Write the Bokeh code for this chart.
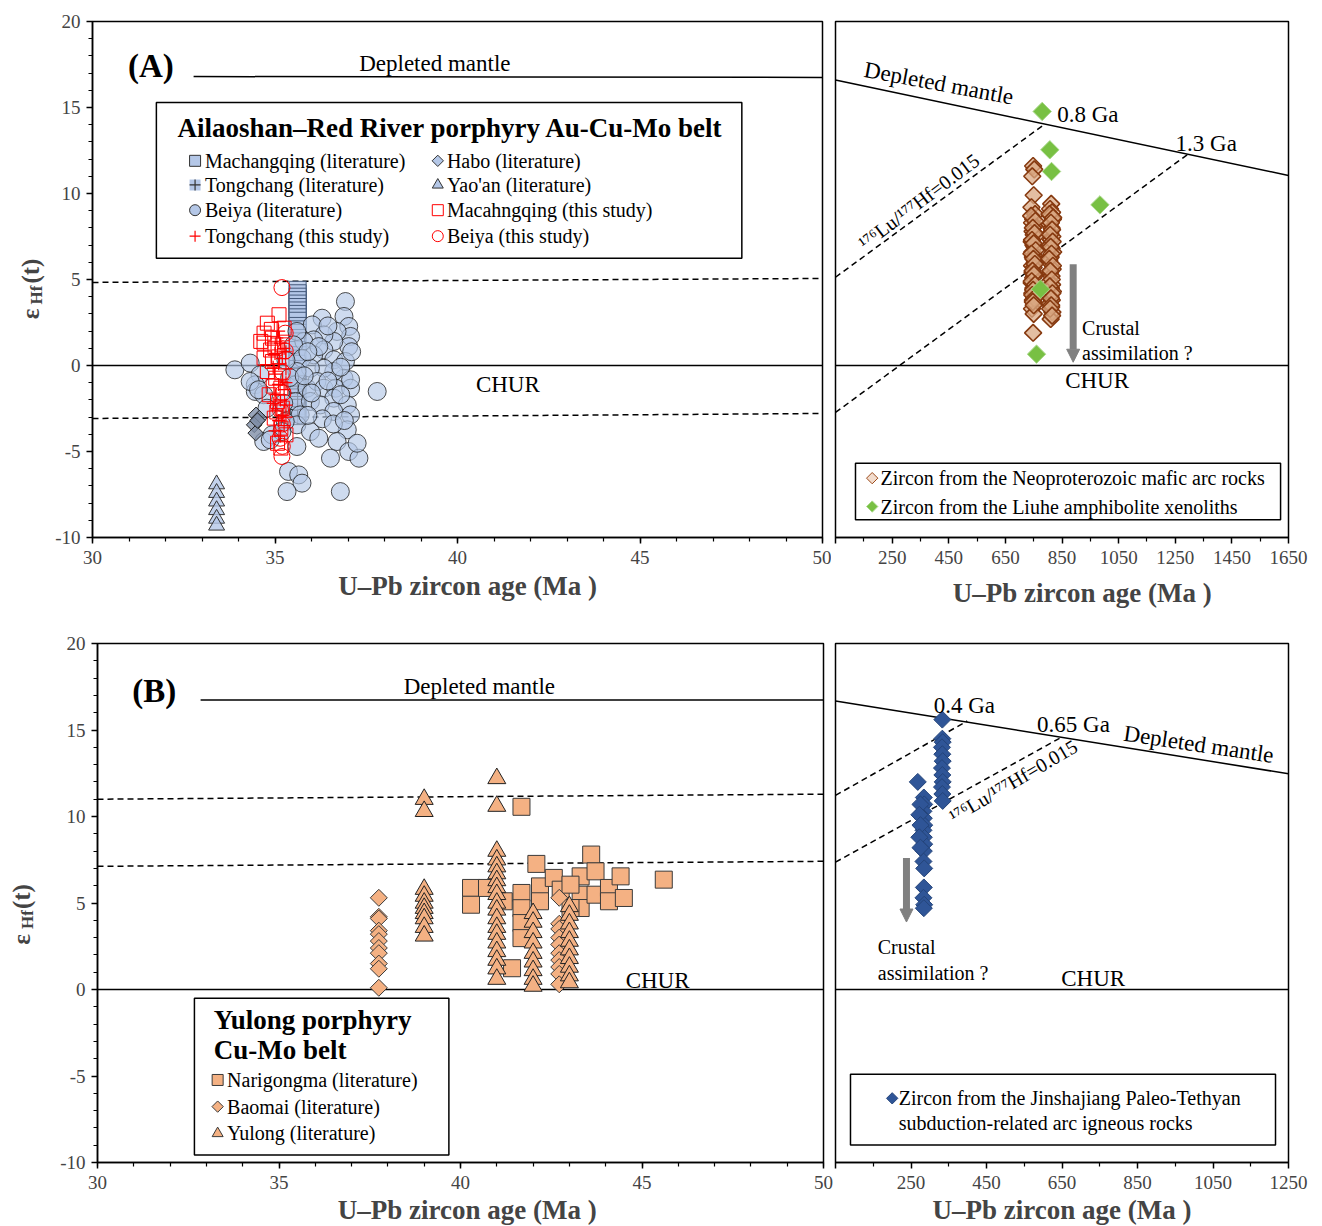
import numpy as np
from bokeh.plotting import figure
from bokeh.layouts import column, row
from bokeh.models import Range1d, FixedTicker, Label, Arrow, NormalHead
from bokeh.core.properties import value
from bokeh.embed import file_html
from bokeh.resources import INLINE

SERIF = "Liberation Serif"

# ---------------- Panel A (Ailaoshan-Red River) ----------------
beiya_lit_x = [36.93, 36.29, 36.02, 36.89, 37.02, 37.07, 37.02, 36.70, 36.61, 36.34, 36.06, 35.79, 35.60, 35.51,
               36.34, 36.06, 35.74, 36.61, 36.93, 36.89, 36.61, 36.34, 35.97, 35.60, 33.90, 34.32, 37.80, 34.59,
               34.46, 34.46, 34.69, 35.56, 35.56, 35.88, 36.15, 36.34, 36.66, 37.07, 37.07, 36.61, 35.97, 36.24,
               36.98, 36.61, 35.69, 37.07, 35.60, 35.97, 36.20, 36.98, 36.70, 36.52, 37.02, 37.30, 37.25, 34.69,
               34.92, 35.60, 35.37, 35.65, 35.74, 35.33, 36.79, 34.32, 34.55, 34.78, 35.24, 35.28, 35.19, 34.87,
               36.45, 36.20, 35.90, 36.80, 36.45, 36.00, 36.80, 36.30, 36.60, 35.90, 35.40, 35.30, 36.90, 37.10, 35.80]
beiya_lit_y = [3.72, 2.75, 2.36, 2.85, 2.27, 1.69, 1.10, 1.98, 1.40, 1.78, 1.49, 1.40, 1.98, 1.20,
               0.91, 0.62, 0.42, 0.33, 0.23, -0.74, -0.35, -0.16, -0.16, -0.35, -0.25, 0.14, -1.51, -0.54,
               -1.12, -1.51, -1.70, -1.12, -2.09, -1.32, -0.93, -1.32, -1.32, -1.32, -0.83, -1.90, -2.09, -2.29,
               -2.29, -2.67, -2.87, -2.87, -3.45, -3.84, -4.23, -3.74, -4.42, -5.39, -5.00, -5.39, -4.52, -4.42,
               -4.03, -4.71, -6.16, -6.36, -6.84, -7.33, -7.33, -0.93, -1.41, -2.48, -2.19, -3.26, -3.84, -4.32,
               2.30, 1.10, 0.80, -0.10, -0.90, -1.60, -1.70, -3.10, -3.40, -2.90, -0.70, 0.30, -3.20, 0.80, -0.60]
machangqing_x = [35.62] * 27
machangqing_y = [4.4, 4.2, 4.0, 3.8, 3.6, 3.4, 3.2, 3.0, 2.8, 2.6, 2.3, 2.1, 1.9, 1.6, 1.4, 1.1, 0.9, 0.6,
                 0.4, 0.1, -0.2, -0.6, -1.0, -1.4, -1.8, -2.3, -2.8]
tongchang_lit_x = [35.62, 35.62, 35.62, 35.62, 35.62]
tongchang_lit_y = [-0.6, -1.2, -1.8, -2.4, -3.0]
habo_x = [34.48, 34.57, 34.43, 34.47, 34.52]
habo_y = [-2.87, -3.06, -3.45, -3.93, -3.20]
yaoan_x = [33.4, 33.4, 33.4, 33.4, 33.4, 33.4]
yaoan_y = [-6.9, -7.4, -7.9, -8.4, -8.9, -9.3]
mcq_this_x = [34.79, 35.11, 34.70, 34.93, 35.20, 34.70, 34.70, 34.93, 34.79, 35.02, 35.16, 34.84, 35.07, 35.20,
              34.98, 35.16, 35.30, 35.07, 35.16, 34.61, 35.25, 34.88, 35.10, 34.95, 35.05, 34.90, 35.00]
mcq_this_y = [2.46, 2.95, 1.88, 1.59, 1.20, 1.30, 0.43, 0.23, -0.35, -0.74, -1.32, -1.70, -2.09, -2.48,
              -3.06, -3.64, -4.03, -4.52, -4.80, 1.40, 2.17, 0.90, 0.50, -1.20, -2.70, 2.10, 1.00]
tc_this_x = [35.05, 35.15, 35.25, 35.00, 35.20, 35.10, 35.30, 35.00, 35.20, 35.10, 35.25, 35.00, 35.15, 35.30,
             35.05, 35.20, 35.10, 35.25, 35.00, 35.15, 35.30, 34.95, 35.30, 34.95, 35.30, 35.10]
tc_this_y = [1.6, 1.3, 1.0, 0.7, 0.4, 0.1, -0.2, -0.5, -0.8, -1.1, -1.4, -1.7, -2.0, -2.3,
             -2.6, -2.9, -3.2, -3.5, -3.8, -4.1, 0.8, -0.1, -1.0, -2.2, -3.0, 2.0]
beiya_this_x = [35.19, 35.28, 35.28, 35.20, 35.22, 35.15, 35.20, 35.14, 35.20, 35.19]
beiya_this_y = [4.53, 1.88, 0.85, -0.40, -1.60, -2.60, -3.40, -4.23, -4.70, -5.29]
a_dm_x = [32.77, 50.0]
a_dm_y = [16.8, 16.75]
a_up_y = [4.83, 5.06]
a_lo_y = [-3.08, -2.79]

# ---------------- Panel A right (Neoproterozoic) ----------------
neo_x = [748, 752, 745, 750, 742, 755, 748, 744, 752, 746, 750, 756, 743, 749, 753, 745, 751, 747,
         754, 744, 750, 746, 752, 748, 743, 755, 749, 745, 751, 747, 753, 744, 750, 748,
         812, 808, 815, 810, 818, 806, 813, 809, 816, 811, 807, 814, 819, 810, 805, 812, 817, 808,
         813, 806, 815, 811, 818, 809, 814, 807, 812, 816, 810,
         741, 756, 747, 753, 744, 750, 757, 742, 749, 754, 746, 751, 743, 755, 748, 745, 752, 747, 750,
         806, 819, 811, 815, 808, 817, 810, 813, 805, 818, 809, 814, 807, 816, 811, 812, 808, 815]
neo_y = [11.6, 11.4, 11.0, 9.9, 9.2, 8.8, 8.5, 8.3, 8.1, 7.8, 7.6, 7.5, 7.2, 7.0, 6.9, 6.6, 6.4, 6.3,
         6.0, 5.8, 5.7, 5.4, 5.2, 5.1, 4.8, 4.6, 4.5, 4.2, 4.0, 3.8, 3.6, 3.3, 3.0, 1.9,
         9.4, 9.1, 8.9, 8.7, 8.5, 8.2, 8.0, 7.7, 7.5, 7.3, 7.0, 6.8, 6.6, 6.3, 6.1, 5.9, 5.6, 5.4,
         5.2, 4.9, 4.7, 4.5, 4.3, 4.0, 3.8, 3.6, 3.4, 3.1, 2.7,
         8.7, 8.4, 8.0, 7.7, 7.3, 7.1, 6.7, 6.5, 6.2, 5.9, 5.5, 5.3, 4.9, 4.7, 4.4, 4.1, 3.9, 3.7, 3.5,
         8.8, 8.6, 8.3, 7.9, 7.6, 7.2, 6.9, 6.5, 6.2, 5.8, 5.5, 5.0, 4.6, 4.2, 3.9, 3.5, 3.3, 2.9]
liuhe_x = [780, 807, 813, 984, 774, 760]
liuhe_y = [14.77, 12.54, 11.28, 9.34, 4.44, 0.66]
ar_dm_x = [50, 1650]
ar_dm_y = [16.6, 11.05]
ar_up_x = [50, 786]
ar_up_y = [5.13, 14.0]
ar_lo_x = [50, 1292]
ar_lo_y = [-2.73, 12.25]

# ---------------- Panel B (Yulong) ----------------
narigongma_x = [40.29, 40.29, 40.73, 41.19, 41.42, 41.68, 42.09, 41.68, 41.68, 41.68, 41.68, 42.19, 42.19,
                42.57, 42.76, 43.31, 43.31, 43.31, 43.60, 43.72, 43.72, 44.09, 44.09, 44.41, 44.50, 45.60,
                43.03, 43.03]
narigongma_y = [5.87, 4.90, 5.87, 5.10, 1.23, 10.56, 7.26, 5.58, 4.70, 3.84, 2.97, 5.96, 5.10,
                6.45, 5.77, 6.54, 5.48, 4.71, 7.80, 6.83, 5.48, 5.87, 5.10, 6.54, 5.29, 6.35,
                6.06, 4.71]
baomai_x = [37.75] * 11 + [42.72] * 10
baomai_y = [5.3, 4.2, 4.1, 3.4, 3.2, 2.8, 2.4, 2.1, 1.5, 1.2, 0.1,
            5.3, 3.8, 3.5, 3.0, 2.6, 2.1, 1.7, 1.3, 0.9, 0.3]
yulong_x = [39.0] * 10 + [41.0] * 19 + [42.0] * 9 + [43.0] * 10
yulong_y = [11.0, 10.3, 5.8, 5.4, 5.0, 4.7, 4.4, 4.1, 3.6, 3.1,
            12.2, 10.6, 8.0, 7.5, 7.1, 6.7, 6.3, 5.9, 5.5, 5.0, 4.6, 4.1, 3.6, 3.2, 2.7, 2.2, 1.7, 1.2, 0.6,
            4.4, 3.9, 3.3, 2.7, 2.1, 1.6, 1.1, 0.6, 0.2,
            4.8, 4.3, 3.8, 3.3, 2.8, 2.3, 1.8, 1.3, 0.8, 0.4]
b_dm_x = [32.84, 50.0]
b_dm_y = [16.73, 16.73]
b_up_y = [11.0, 11.29]
b_lo_y = [7.12, 7.41]

# ---------------- Panel B right (Jinshajiang) ----------------
jsj_x = [333, 333, 334, 332, 333, 334, 332, 333, 334, 332, 333, 334,
         284, 285, 283, 284, 285, 283, 284, 285, 284, 283, 285, 284, 283, 285, 284,
         268, 275, 272, 275, 272, 275]
jsj_y = [15.6, 14.5, 14.3, 14.0, 13.6, 13.2, 12.8, 12.4, 12.0, 11.7, 11.3, 10.9,
         11.1, 10.7, 10.3, 9.9, 9.5, 9.2, 8.8, 8.4, 8.0, 7.4, 7.0, 5.9, 5.3, 4.9, 4.7,
         12.0, 10.7, 10.1, 9.5, 8.8, 8.2]
br_dm_x = [50, 1250]
br_dm_y = [16.68, 12.47]
br_up_x = [50, 399]
br_up_y = [11.22, 15.52]
br_lo_x = [50, 646]
br_lo_y = [7.36, 14.55]

left_ticks = [30, 35, 40, 45, 50]
left_minor = list(range(30, 51))
y_ticks = [-10, -5, 0, 5, 10, 15, 20]
y_minor = list(range(-10, 21))
tr_ticks = [50, 250, 450, 650, 850, 1050, 1250, 1450, 1650]
tr_minor = [150, 350, 550, 750, 950, 1150, 1350, 1550]
br_ticks = [50, 250, 450, 650, 850, 1050, 1250]
br_minor = [150, 350, 550, 750, 950, 1150]

AXIS_TITLE = "U\u2013Pb zircon age (Ma )"
LB = "#b4c7e7"
ORANGE = "#f4b183"
LBL = "23px"


def base_fig(xr, fw, fh, bl, br, bt, bb, xt, xm, with_y, label_standoff, label_pad):
    p = figure(x_range=Range1d(*xr), y_range=Range1d(-10, 20), frame_width=fw, frame_height=fh,
               min_border_left=bl, min_border_right=br, min_border_top=bt, min_border_bottom=bb,
               output_backend="svg", toolbar_location=None,
               y_axis_location="left" if with_y else None)
    p.xgrid.visible = False
    p.ygrid.visible = False
    p.outline_line_color = "black"
    p.outline_line_width = 1.5
    p.background_fill_color = "white"
    p.border_fill_color = "white"
    ax = p.xaxis[0]
    ax.ticker = FixedTicker(ticks=xt, minor_ticks=xm)
    ax.axis_label = label_pad + AXIS_TITLE
    ax.axis_label_text_font = SERIF
    ax.axis_label_text_font_style = "bold"
    ax.axis_label_text_font_size = "27px"
    ax.axis_label_standoff = label_standoff
    ax.major_label_text_font = SERIF
    ax.major_label_text_font_size = "19px"
    ax.major_label_standoff = 7
    ax.major_tick_out = 6
    ax.major_tick_in = 0
    ax.minor_tick_out = 4
    ax.minor_tick_in = 0
    ax.axis_line_width = 1.5
    ax.major_tick_line_width = 1.5
    ax.minor_tick_line_width = 1.2
    if with_y:
        ay = p.yaxis[0]
        ay.ticker = FixedTicker(ticks=y_ticks, minor_ticks=y_minor)
        ay.major_label_overrides = {-10: "-10", -5: "-5"}
        ay.major_label_text_font = SERIF
        ay.major_label_text_font_size = "19px"
        ay.major_label_standoff = 6
        ay.major_tick_out = 6
        ay.major_tick_in = 0
        ay.minor_tick_out = 4
        ay.minor_tick_in = 0
        ay.axis_line_width = 1.5
        ay.major_tick_line_width = 1.5
        ay.minor_tick_line_width = 1.2
    return p


def txt(p, x, y, s, size=LBL, align="center", baseline="middle", angle=0.0, bold=False):
    p.text(x=[x], y=[y], text=[s], text_font=value(SERIF), text_font_size=size,
           text_align=align, text_baseline=baseline, angle=angle,
           text_font_style="bold" if bold else "normal", text_color="black")


def ylabel(p, main_pos, sub_pos):
    # epsilon ... (t) in one rotated label, the "Hf" subscript in a smaller one
    p.add_layout(Label(x=main_pos[0], y=main_pos[1], text="\u03b5\u2002\u2002(t)", angle=np.pi / 2,
                       text_font=SERIF, text_font_size="25px", text_font_style="bold",
                       text_align="center", text_baseline="middle"), "left")
    p.add_layout(Label(x=sub_pos[0], y=sub_pos[1], text="Hf", angle=np.pi / 2,
                       text_font=SERIF, text_font_size="17px", text_font_style="bold",
                       text_align="center", text_baseline="middle"), "left")


def box(p, l, r, t, b):
    p.quad(left=[l], right=[r], top=[t], bottom=[b], fill_color="white", line_color="black", line_width=1.5)


def arrow(p, x, y0, y1):
    p.add_layout(Arrow(end=NormalHead(size=13, fill_color="#808080", line_color="#808080"),
                       x_start=x, y_start=y0, x_end=x, y_end=y1, line_color="#808080", line_width=7))


# ================= Top-left =================
p1 = base_fig((30, 50), 730, 516, 92, 9, 21, 89, left_ticks, left_minor, True, 4, "\u2002\u00a0")
p1.line([30, 50], [0, 0], line_color="black", line_width=1.5)
p1.line([30, 50], a_up_y, line_color="black", line_width=1.5, line_dash="6 4")
p1.line([30, 50], a_lo_y, line_color="black", line_width=1.5, line_dash="6 4")
p1.line(a_dm_x, a_dm_y, line_color="black", line_width=1.5)
p1.scatter(machangqing_x, machangqing_y, marker="square", size=17, fill_color=LB, fill_alpha=0.8,
           line_color="#44597a", line_width=1)
p1.scatter(tongchang_lit_x, tongchang_lit_y, marker="square_cross", size=15, fill_color=LB, fill_alpha=0.8,
           line_color="#333333", line_width=1)
p1.scatter(beiya_lit_x, beiya_lit_y, marker="circle", size=18, fill_color=LB, fill_alpha=0.65,
           line_color="#222222", line_alpha=0.8, line_width=1)
p1.scatter(habo_x, habo_y, marker="square", angle=np.pi / 4, size=11, fill_color="#7f8fa8", fill_alpha=0.8,
           line_color="#222222", line_width=1)
p1.scatter(yaoan_x, yaoan_y, marker="triangle", size=16, fill_color=LB, fill_alpha=0.8,
           line_color="#333333", line_width=1)
p1.scatter(mcq_this_x, mcq_this_y, marker="square", size=14, fill_color=None, line_color="red", line_width=1)
p1.scatter(tc_this_x, tc_this_y, marker="cross", size=13, line_color="red", line_width=1.2)
p1.scatter(beiya_this_x, beiya_this_y, marker="circle", size=16, fill_color=None, line_color="red", line_width=1)
txt(p1, 30.97, 17.44, "(A)", size="33px", align="left", bold=True)
txt(p1, 39.38, 17.56, "Depleted mantle")
txt(p1, 41.38, -1.1, "CHUR")
box(p1, 31.75, 47.79, 15.29, 6.24)
txt(p1, 32.33, 13.8, "Ailaoshan\u2013Red River porphyry Au-Cu-Mo belt", size="27px", align="left", bold=True)
leg_rows = [11.9, 10.5, 9.03, 7.52]
mx1, tx1, mx2, tx2 = 32.81, 33.08, 39.46, 39.71
p1.scatter([mx1], [leg_rows[0]], marker="square", size=11, fill_color=LB, line_color="#333333")
p1.scatter([mx1], [leg_rows[1]], marker="square", size=11, fill_color=LB, line_alpha=0)
p1.scatter([mx1], [leg_rows[1]], marker="cross", size=11, line_color="#333333", line_width=1.2)
p1.scatter([mx1], [leg_rows[2]], marker="circle", size=11, fill_color=LB, line_color="#333333")
p1.scatter([mx1], [leg_rows[3]], marker="cross", size=11, line_color="red", line_width=1.2)
p1.scatter([mx2], [leg_rows[0]], marker="square", angle=np.pi / 4, size=8, fill_color=LB, line_color="#333333")
p1.scatter([mx2], [leg_rows[1]], marker="triangle", size=11, fill_color=LB, line_color="#333333")
p1.scatter([mx2], [leg_rows[2]], marker="square", size=11, fill_color=None, line_color="red")
p1.scatter([mx2], [leg_rows[3]], marker="circle", size=11, fill_color=None, line_color="red")
for yy, s in zip(leg_rows, ["Machangqing (literature)", "Tongchang (literature)", "Beiya (literature)",
                             "Tongchang (this study)"]):
    txt(p1, tx1, yy, s, size="20px", align="left")
for yy, s in zip(leg_rows, ["Habo (literature)", "Yao'an (literature)", "Macahngqing (this study)",
                             "Beiya (this study)"]):
    txt(p1, tx2, yy, s, size="20px", align="left")
ylabel(p1, (28.30, 4.45), (28.46, 4.1))

# ================= Top-right =================
p2 = base_fig((50, 1650), 453, 516, 4, 34, 21, 89, tr_ticks, tr_minor, False, 11, "\u2002\u2002\u2002")
p2.xaxis[0].major_label_overrides = {50: ""}
p2.line([50, 1650], [0, 0], line_color="black", line_width=1.5)
p2.line(ar_dm_x, ar_dm_y, line_color="black", line_width=1.5)
p2.line(ar_up_x, ar_up_y, line_color="black", line_width=1.5, line_dash="6 4")
p2.line(ar_lo_x, ar_lo_y, line_color="black", line_width=1.5, line_dash="6 4")
p2.scatter(neo_x, neo_y, marker="square", angle=np.pi / 4, size=12, fill_color="#d9a883", fill_alpha=0.75,
           line_color="#86390f", line_width=1.6)
p2.scatter(liuhe_x, liuhe_y, marker="square", angle=np.pi / 4, size=13, fill_color="#78c043",
           line_color="#a8d88a", line_width=1)
arrow(p2, 889.5, 5.89, 0.19)
txt(p2, 415, 16.41, "Depleted mantle", angle=-0.185)
txt(p2, 833, 14.57, "0.8 Ga", align="left")
txt(p2, 1251, 12.93, "1.3 Ga", align="left")
txt(p2, 344, 9.53, "\u00b9\u2077\u2076Lu/\u00b9\u2077\u2077Hf=0.015", size="20px", angle=0.645)
txt(p2, 921, 2.17, "Crustal", size="20px", align="left")
txt(p2, 921, 0.72, "assimilation ?", size="20px", align="left")
txt(p2, 974, -0.89, "CHUR")
box(p2, 120.6, 1622, -5.68, -8.97)
p2.scatter([179.6], [-6.55], marker="square", angle=np.pi / 4, size=8, fill_color="#f2dccd", line_color="#9c4a1a")
p2.scatter([179.6], [-8.2], marker="square", angle=np.pi / 4, size=8, fill_color="#78c043", line_color="#a8d88a")
txt(p2, 209, -6.55, "Zircon from the Neoproterozoic mafic arc rocks", size="20px", align="left")
txt(p2, 209, -8.2, "Zircon from the Liuhe amphibolite xenoliths", size="20px", align="left")

# ================= Bottom-left =================
p3 = base_fig((30, 50), 726, 519, 97, 10, 17, 64, left_ticks, left_minor, True, 3, "\u00a0\u00a0")
p3.line([30, 50], [0, 0], line_color="black", line_width=1.5)
p3.line([30, 50], b_up_y, line_color="black", line_width=1.5, line_dash="6 4")
p3.line([30, 50], b_lo_y, line_color="black", line_width=1.5, line_dash="6 4")
p3.line(b_dm_x, b_dm_y, line_color="black", line_width=1.5)
p3.scatter(narigongma_x, narigongma_y, marker="square", size=17, fill_color=ORANGE, line_color="#3a3a3a",
           line_width=1)
p3.scatter(baomai_x, baomai_y, marker="square", angle=np.pi / 4, size=12, fill_color=ORANGE,
           line_color="#3a3a3a", line_width=1)
p3.scatter(yulong_x, yulong_y, marker="triangle", size=18, fill_color=ORANGE, line_color="#222222",
           line_width=1)
txt(p3, 30.96, 17.26, "(B)", size="33px", align="left", bold=True)
txt(p3, 40.52, 17.49, "Depleted mantle")
txt(p3, 45.43, 0.52, "CHUR")
box(p3, 32.67, 39.68, -0.5, -9.57)
txt(p3, 33.2, -1.75, "Yulong porphyry", size="27px", align="left", bold=True)
txt(p3, 33.2, -3.49, "Cu-Mo belt", size="27px", align="left", bold=True)
p3.scatter([33.31], [-5.23], marker="square", size=11, fill_color=ORANGE, line_color="#3a3a3a")
p3.scatter([33.31], [-6.77], marker="square", angle=np.pi / 4, size=8, fill_color=ORANGE, line_color="#3a3a3a")
p3.scatter([33.31], [-8.32], marker="triangle", size=11, fill_color=ORANGE, line_color="#3a3a3a")
txt(p3, 33.57, -5.23, "Narigongma (literature)", size="20px", align="left")
txt(p3, 33.57, -6.77, "Baomai (literature)", size="20px", align="left")
txt(p3, 33.57, -8.32, "Yulong (literature)", size="20px", align="left")
ylabel(p3, (27.92, 4.34), (28.08, 4.05))

# ================= Bottom-right =================
p4 = base_fig((50, 1250), 453, 519, 2, 34, 17, 64, br_ticks, br_minor, False, 3, "")
p4.xaxis[0].major_label_overrides = {50: ""}
p4.line([50, 1250], [0, 0], line_color="black", line_width=1.5)
p4.line(br_dm_x, br_dm_y, line_color="black", line_width=1.5)
p4.line(br_up_x, br_up_y, line_color="black", line_width=1.5, line_dash="6 4")
p4.line(br_lo_x, br_lo_y, line_color="black", line_width=1.5, line_dash="6 4")
p4.scatter(jsj_x, jsj_y, marker="square", angle=np.pi / 4, size=12, fill_color="#2f5597",
           line_color="#24447a", line_width=1)
arrow(p4, 238, 7.6, 3.9)
txt(p4, 310, 16.39, "0.4 Ga", align="left")
txt(p4, 584, 15.33, "0.65 Ga", align="left")
txt(p4, 1012, 14.17, "Depleted mantle", angle=-0.148)
txt(p4, 520.7, 12.04, "\u00b9\u2077\u2076Lu/\u00b9\u2077\u2077Hf=0.015", size="20px", angle=0.53)
txt(p4, 162, 2.43, "Crustal", size="20px", align="left")
txt(p4, 162, 0.95, "assimilation ?", size="20px", align="left")
txt(p4, 732.5, 0.62, "CHUR")
box(p4, 89.7, 1215.6, -4.9, -8.99)
p4.scatter([200.2], [-6.29], marker="square", angle=np.pi / 4, size=8, fill_color="#2f5597", line_color="#24447a")
txt(p4, 217.7, -6.29, "Zircon from the Jinshajiang Paleo-Tethyan", size="20px", align="left")
txt(p4, 217.7, -7.74, "subduction-related arc igneous rocks", size="20px", align="left")

layout = column(row(p1, p2), row(p3, p4))
open("out.html", "w").write(file_html(layout, INLINE))
